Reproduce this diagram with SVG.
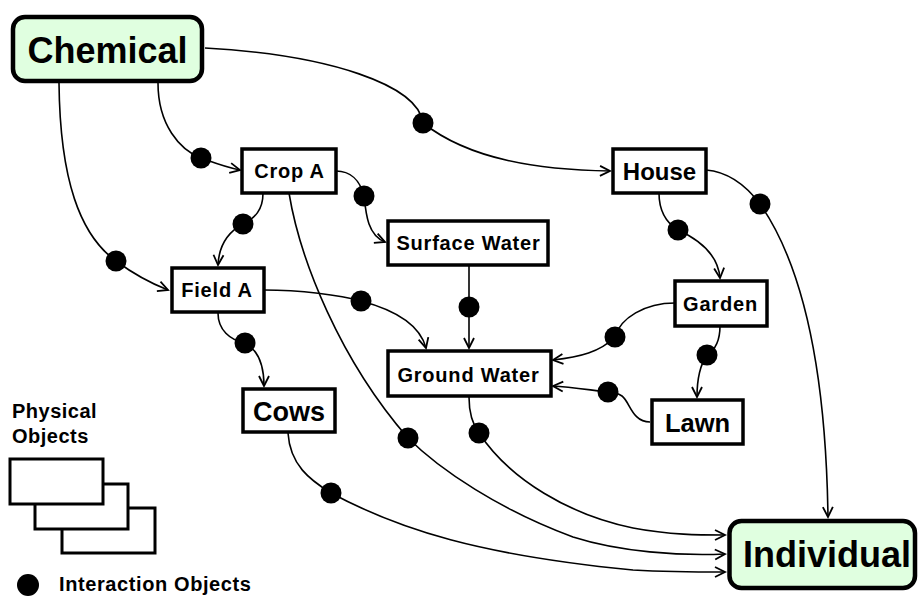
<svg xmlns="http://www.w3.org/2000/svg" width="918" height="597" viewBox="0 0 918 597">
<defs>
<style>
.box{fill:#fff;stroke:#000;stroke-width:3.5}
.big{fill:#e0ffe0;stroke:#000;stroke-width:4.5}
.lbl{font-family:"Liberation Sans",Arial,Helvetica,sans-serif;font-weight:bold;fill:#000}
.s{font-size:20px;letter-spacing:0.8px;text-anchor:middle}
.c{fill:none;stroke:#000;stroke-width:1.6}
.a{marker-end:url(#arr)}
.dot{fill:#000}
.leg{fill:#fff;stroke:#000;stroke-width:3}
</style>
<marker id="arr" markerUnits="userSpaceOnUse" markerWidth="14" markerHeight="12" refX="11" refY="6" orient="auto" overflow="visible">
<path d="M1,1 L11,6 L1,11" fill="none" stroke="#000" stroke-width="1.8"/>
</marker>
</defs>

<g id="connectors">
<path class="c a" d="M158,83 C158,125 180,150 201,158 C215,163 225,167 240,170"/>
<path class="c a" d="M59,83 C60,180 80,235 116,261 C135,275 150,283 168,290"/>
<path class="c a" d="M205,48 C330,55 418,85 423,123 C470,160 540,170 610,171"/>
<path class="c a" d="M336,171 C350,171 360,180 364,196 C366,215 368,235 385,242"/>
<path class="c a" d="M263,193 C263,210 255,218 243,224 C228,232 219,245 218,265"/>
<path class="c a" d="M289,193 C300,260 340,360 408,438 C440,470 500,510 573,537 C620,552 680,556 725,554"/>
<path class="c a" d="M469,397 C469,415 473,425 479,433 C510,480 570,515 633,528 C670,535 700,535 725,535"/>
<path class="c a" d="M288,433 C290,465 310,480 331,493 C400,530 480,555 633,570 C670,572 700,572 725,572"/>
<path class="c a" d="M706,170 C730,172 748,188 760,204 C806,270 826,380 828,517"/>
<path class="c a" d="M659,193 C659,210 665,222 678,230 C700,240 718,255 720,278"/>
<path class="c a" d="M675,303 C645,303 620,318 615,337 C600,352 580,357 553,360"/>
<path class="c a" d="M720,326 C720,340 715,350 707,355 C700,365 697,380 697,397"/>
<path class="c a" d="M650,422 C632,422 630,402 622,396 C616,392 612,392 608,392 C590,390 570,387 553,386"/>
<path class="c a" d="M469,265 L469,348"/>
<path class="c a" d="M264,290 C300,290 340,295 361,301 C395,310 420,325 426,348"/>
<path class="c a" d="M218,313 C218,330 230,340 245,343 C258,350 264,365 264,386"/>
<circle class="dot" cx="201" cy="158" r="10.5"/>
<circle class="dot" cx="116" cy="261" r="10.5"/>
<circle class="dot" cx="423" cy="123" r="10.5"/>
<circle class="dot" cx="364" cy="196" r="10.5"/>
<circle class="dot" cx="243" cy="224" r="10.5"/>
<circle class="dot" cx="408" cy="438" r="10.5"/>
<circle class="dot" cx="479" cy="433" r="10.5"/>
<circle class="dot" cx="331" cy="493" r="10.5"/>
<circle class="dot" cx="760" cy="204" r="10.5"/>
<circle class="dot" cx="678" cy="230" r="10.5"/>
<circle class="dot" cx="615" cy="337" r="10.5"/>
<circle class="dot" cx="707" cy="355" r="10.5"/>
<circle class="dot" cx="608" cy="392" r="10.5"/>
<circle class="dot" cx="469" cy="307" r="10.5"/>
<circle class="dot" cx="361" cy="301" r="10.5"/>
<circle class="dot" cx="245" cy="343" r="10.5"/>
</g>

<g id="chemical">
<rect class="big" x="13" y="17" width="189" height="64" rx="12"/>
<text class="lbl" x="107.5" y="63" font-size="36" text-anchor="middle">Chemical</text>
</g>
<g id="cropA">
<rect class="box" x="242" y="149" width="94" height="44"/>
<text class="lbl s" x="289.5" y="178">Crop A</text>
</g>
<g id="house">
<rect class="box" x="613" y="149" width="93" height="44"/>
<text class="lbl" x="659.5" y="180" font-size="24" text-anchor="middle">House</text>
</g>
<g id="surfaceWater">
<rect class="box" x="388" y="221" width="160" height="44"/>
<text class="lbl s" x="468.5" y="250">Surface Water</text>
</g>
<g id="fieldA">
<rect class="box" x="172" y="268" width="92" height="44"/>
<text class="lbl s" x="217" y="297">Field A</text>
</g>
<g id="garden">
<rect class="box" x="675" y="281" width="92" height="45"/>
<text class="lbl s" x="720.5" y="311">Garden</text>
</g>
<g id="groundWater">
<rect class="box" x="388" y="351" width="163" height="45"/>
<text class="lbl s" x="468.5" y="382">Ground Water</text>
</g>
<g id="cows">
<rect class="box" x="243" y="389" width="92" height="43"/>
<text class="lbl" x="289" y="421" font-size="27" text-anchor="middle">Cows</text>
</g>
<g id="lawn">
<rect class="box" x="652" y="400" width="91" height="44"/>
<text class="lbl" x="697.5" y="432" font-size="25.5" text-anchor="middle">Lawn</text>
</g>
<g id="individual">
<rect class="big" x="729.5" y="521" width="185.5" height="67" rx="12"/>
<text class="lbl" x="743" y="567" font-size="36">Individual</text>
</g>

<g id="legend">
<text class="lbl" x="12" y="418" font-size="20" letter-spacing="0.5">Physical</text>
<text class="lbl" x="12" y="443" font-size="20" letter-spacing="0.5">Objects</text>
<rect class="leg" x="62" y="508" width="93" height="45"/>
<rect class="leg" x="35" y="484" width="93" height="45"/>
<rect class="leg" x="10" y="459" width="93" height="45"/>
<circle class="dot" cx="28" cy="585" r="11"/>
<text class="lbl" x="59" y="591" font-size="20" letter-spacing="0.6">Interaction Objects</text>
</g>
</svg>
